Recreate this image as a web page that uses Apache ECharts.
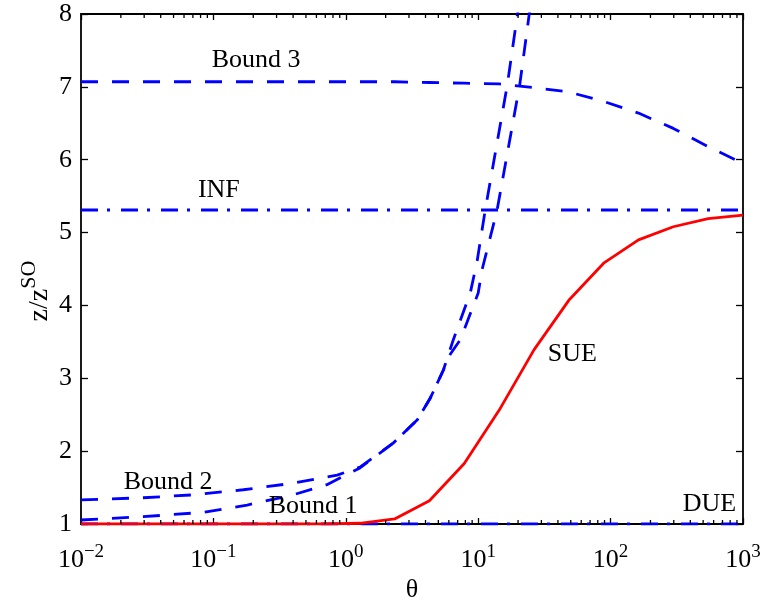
<!DOCTYPE html>
<html>
<head>
<meta charset="utf-8">
<script src="https://cdn.jsdelivr.net/npm/echarts@6/dist/echarts.min.js"></script>
<style>
  html, body { margin: 0; padding: 0; background: #fff; }
  #chart { width: 764px; height: 604px; }
</style>
</head>
<body>
<div id="chart"></div>
<script>
// Common theta grid (20 log-spaced samples from 1e-2 to 1e3)
const thetaGrid = [0.01, 0.01833, 0.0336, 0.06158, 0.1129, 0.2069, 0.3793, 0.6952,
  1.274, 2.336, 4.281, 7.848, 14.38, 26.37, 48.33, 88.59, 162.4, 297.6, 545.6, 1000];

const sueValues = [1, 1, 1, 1, 1, 1, 1, 1, 1.01, 1.07, 1.32, 1.83, 2.56, 3.39,
  4.07, 4.58, 4.90, 5.08, 5.19, 5.24];
const dueValues = [1, 1, 1, 1, 1, 1, 1, 1, 1, 1, 1, 1, 1, 1, 1, 1, 1, 1, 1, 1];
const infValues = [5.31, 5.31, 5.31, 5.31, 5.31, 5.31, 5.31, 5.31, 5.31, 5.31,
  5.31, 5.31, 5.31, 5.31, 5.31, 5.31, 5.31, 5.31, 5.31, 5.31];
const bound3Values = [7.07, 7.07, 7.07, 7.07, 7.07, 7.07, 7.07, 7.07, 7.07, 7.07,
  7.06, 7.05, 7.04, 6.99, 6.93, 6.80, 6.64, 6.43, 6.18, 5.95];

// Bound 1 and Bound 2 are sampled more finely where they climb
const bound1Theta = [0.01, 0.0294, 0.0836, 0.18, 0.40, 0.72, 1.28, 2.28, 3.47, 4.35,
  5.45, 6.15, 7.33, 10.0, 10.7, 13.9, 20.6, 24.3, 26];
const bound1Values = [1.055, 1.10, 1.16, 1.26, 1.40, 1.54, 1.77, 2.11, 2.43, 2.73,
  3.11, 3.33, 3.53, 4.17, 4.49, 5.31, 7.03, 8.0, 8.3];
const bound2Theta = [0.01, 0.0294, 0.0703, 0.168, 0.40, 0.86, 1.28, 2.28, 3.47, 4.35,
  5.45, 6.49, 8.71, 9.84, 11.3, 16.6, 19.8, 21];
const bound2Values = [1.33, 1.36, 1.40, 1.47, 1.56, 1.67, 1.78, 2.11, 2.43, 2.73,
  3.11, 3.53, 4.17, 4.62, 5.31, 7.03, 8.0, 8.26];

// Curve annotations: [text, theta, value]
const annotations = [
  ['Bound 3', 0.21, 7.37],
  ['INF', 0.110, 5.58],
  ['Bound 2', 0.0455, 1.58],
  ['Bound 1', 0.567, 1.25],
  ['SUE', 51.4, 3.33],
  ['DUE', 558, 1.27]
];

const yTicks = [1, 2, 3, 4, 5, 6, 7, 8];
const xDecades = [-2, -1, 0, 1, 2, 3];

const FONT = 'Liberation Serif';
const BLUE = '#0000ff';
const RED = '#ff0000';

function pairs(xs, ys) { return xs.map((x, i) => [x, ys[i]]); }

const chart = echarts.init(document.getElementById('chart'), null, { renderer: 'canvas' });

const axisLineStyle = { color: '#000', width: 1.8 };
const tickStyle = { color: '#000', width: 1.3 };
// "10" sits low in a taller line box while the exponent hugs its top
const supRich = {
  b: { fontFamily: FONT, fontSize: 26, color: '#000', lineHeight: 30, verticalAlign: 'bottom' },
  s: { fontFamily: FONT, fontSize: 19, color: '#000', lineHeight: 19, verticalAlign: 'top' }
};

const option = {
  animation: false,
  backgroundColor: '#fff',
  grid: { left: 81, right: 21, top: 14, bottom: 80, containLabel: false, outerBoundsMode: 'none' },
  xAxis: [{
    type: 'log', logBase: 10, min: 0.01, max: 1000, position: 'bottom',
    axisLine: { lineStyle: axisLineStyle },
    axisTick: { inside: true, length: 6, lineStyle: tickStyle },
    splitLine: { show: false },
    axisLabel: {
      margin: 19,
      formatter: function (v) {
        const e = Math.round(Math.log10(v));
        return '{b|10}{s|' + String(e).replace('-', '\u2212') + '}';
      },
      rich: supRich
    },
    name: '\u03b8', nameLocation: 'middle', nameGap: 53, nameMoveOverlap: false,
    nameTextStyle: { fontFamily: FONT, fontSize: 26, color: '#000' }
  }, {
    type: 'log', logBase: 10, min: 0.01, max: 1000, position: 'top',
    axisLine: { lineStyle: axisLineStyle },
    axisTick: { inside: true, length: 6, lineStyle: tickStyle },
    splitLine: { show: false },
    axisLabel: { show: false }
  }],
  yAxis: [{
    type: 'value', min: 1, max: 8, interval: 1, position: 'left',
    axisLine: { show: true, lineStyle: axisLineStyle },
    axisTick: { show: true, inside: true, length: 7, lineStyle: tickStyle },
    splitLine: { show: false },
    axisLabel: { margin: 9, fontFamily: FONT, fontSize: 26, color: '#000' }
  }, {
    type: 'value', min: 1, max: 8, interval: 1, position: 'right',
    axisLine: { show: true, lineStyle: axisLineStyle },
    axisTick: { show: true, inside: true, length: 7, lineStyle: tickStyle },
    splitLine: { show: false },
    axisLabel: { show: false }
  }],
  series: [
    {
      name: 'DUE', type: 'line', data: pairs(thetaGrid, dueValues), symbol: 'none',
      lineStyle: { color: BLUE, width: 2.8, type: [17, 9, 3, 11] }, z: 2
    },
    {
      name: 'INF', type: 'line', data: pairs(thetaGrid, infValues), symbol: 'none',
      lineStyle: { color: BLUE, width: 2.8, type: [17, 9, 3, 11] }, z: 2
    },
    {
      name: 'Bound 3', type: 'line', data: pairs(thetaGrid, bound3Values), symbol: 'none',
      lineStyle: { color: BLUE, width: 2.8, type: [17, 14] }, z: 2
    },
    {
      name: 'Bound 1', type: 'line', data: pairs(bound1Theta, bound1Values), symbol: 'none',
      lineStyle: { color: BLUE, width: 2.8, type: [17, 14] }, z: 2
    },
    {
      name: 'Bound 2', type: 'line', data: pairs(bound2Theta, bound2Values), symbol: 'none',
      lineStyle: { color: BLUE, width: 2.8, type: [17, 14] }, z: 2
    },
    {
      name: 'SUE', type: 'line', data: pairs(thetaGrid, sueValues), symbol: 'none',
      lineStyle: { color: RED, width: 2.8 }, z: 3
    }
  ]
};

chart.setOption(option);

// Minor log ticks, annotations and the y-axis title are placed through the axes' own scales
function drawExtras() {
  const g = [];
  const yBottom = chart.convertToPixel({ yAxisIndex: 0 }, 1);
  const yTop = chart.convertToPixel({ yAxisIndex: 0 }, 8);
  xDecades.slice(0, -1).forEach(function (d) {
    for (let k = 2; k <= 9; k++) {
      const px = chart.convertToPixel({ xAxisIndex: 0 }, k * Math.pow(10, d));
      g.push({ type: 'line', shape: { x1: px, y1: yBottom, x2: px, y2: yBottom - 4 },
        style: { stroke: '#000', lineWidth: 1.3 }, z: 10 });
      g.push({ type: 'line', shape: { x1: px, y1: yTop, x2: px, y2: yTop + 4 },
        style: { stroke: '#000', lineWidth: 1.3 }, z: 10 });
    }
  });
  annotations.forEach(function (a) {
    const p = chart.convertToPixel({ xAxisIndex: 0, yAxisIndex: 0 }, [a[1], a[2]]);
    g.push({ type: 'text', x: p[0], y: p[1], z: 10,
      style: { text: a[0], fontFamily: FONT, fontSize: 26, fill: '#000',
        align: 'center', verticalAlign: 'middle' } });
  });
  const midY = (yBottom + yTop) / 2;
  g.push({ type: 'text', x: 36, y: midY + 22, rotation: Math.PI / 2, z: 10,
    style: { text: '{a|z/z}{s|SO}', align: 'center', verticalAlign: 'middle',
      rich: {
        a: { fontFamily: FONT, fontSize: 28, fill: '#000', lineHeight: 36, verticalAlign: 'bottom' },
        s: { fontFamily: FONT, fontSize: 22, fill: '#000', lineHeight: 22, verticalAlign: 'top' }
      } } });
  chart.setOption({ graphic: g });
}
drawExtras();
</script>
</body>
</html>
